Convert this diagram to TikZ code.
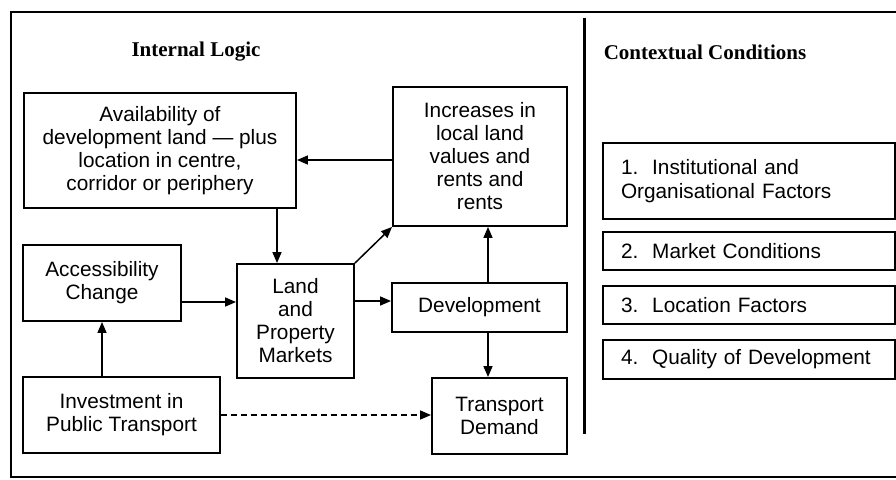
\documentclass[tikz,border=0pt]{standalone}
\usepackage{fontspec}
\setmainfont{Liberation Sans}
\newfontfamily\headfont{Liberation Serif}
\usepackage{tikz}
\usetikzlibrary{arrows.meta,positioning,calc}

\begin{document}
\begin{tikzpicture}[>={Triangle[length=11pt,width=9pt]},x=1pt,y=-1pt,line width=1.5pt]
	\tikzstyle{block} = [draw,rectangle,line width=1.9pt,align=center,inner sep=0pt,font=\fontsize{20.8}{23}\selectfont]
	\tikzstyle{factor} = [draw,rectangle,line width=1.9pt,align=left,text width=256pt,inner xsep=18pt,inner ysep=0pt,minimum width=292pt,font=\fontsize{20.8}{24}\selectfont]
	\tikzstyle{heading} = [inner sep=0pt,font=\headfont\bfseries\fontsize{21}{24}\selectfont]
	\useasboundingbox (0,0) rectangle (896,479);

	% frame and divider
	\draw[line width=1.4pt] (896,12) -| (11,477) -- (896,477);
	\draw[line width=3pt] (584,18) -- (584,434);

	\node[heading] (H1) at (196,52) {Internal Logic};
	\node[heading,anchor=west] (H2) at (603,52) {Contextual Conditions};

	% internal logic
	\node[block,minimum width=272,minimum height=115] (T1) at (160,150.5) {Availability of\\development land --- plus\\location in centre,\\corridor or periphery};
	\node[block,minimum width=174,minimum height=139] (T2) at (480,156.5) {Increases in\\local land\\values and\\rents and\\rents};
	\node[block,minimum width=158,minimum height=76] (T3) at (102,283) {Accessibility\\Change};
	\node[block,minimum width=117,minimum height=114] (T4) at (295.5,321) {Land\\and\\Property\\Markets};
	\node[block,minimum width=175,minimum height=49] (T5) at (479.5,307.5) {Development};
	\node[block,minimum width=197,minimum height=76] (T6) at (121.5,415) {Investment in\\Public Transport};
	\node[block,minimum width=135,minimum height=76] (T7) at (499.5,416) {Transport\\Demand};

	\draw[->] ([yshift=-3.5pt]T2.west) -- ([yshift=-3.5pt]T2.west -| T1.east);
	\draw[->] ([xshift=-18.5pt]T4.north |- T1.south) -- ([xshift=-18.5pt]T4.north);
	\draw[->] (T4.north east) -- (T2.south west);
	\draw[->] ([yshift=-19pt]T3.east) -- ([yshift=-19pt]T3.east -| T4.west);
	\draw[->] ([yshift=6.5pt]T5.west -| T4.east) -- ([yshift=6.5pt]T5.west);
	\draw[->] ([xshift=8.5pt]T5.north) -- ([xshift=8.5pt]T5.north |- T2.south);
	\draw[->] ([xshift=8.5pt]T5.south) -- ([xshift=8.5pt]T5.south |- T7.north);
	\draw[->] (T6.north -| T3.south) -- (T3.south);
	\draw[->,dash pattern=on 6pt off 4pt] (T6.east) -- (T6.east -| T7.west);

	% contextual conditions
	\node[factor,minimum height=76] (F1) at (749,181) {1.~~Institutional and\\Organisational Factors};
	\node[factor,minimum height=38] (F2) at (749,251) {2.~~Market Conditions};
	\node[factor,minimum height=38] (F3) at (749,305) {3.~~Location Factors};
	\node[factor,minimum height=39] (F4) at (749,359.5) {4.~~Quality of Development};
\end{tikzpicture}
\end{document}
